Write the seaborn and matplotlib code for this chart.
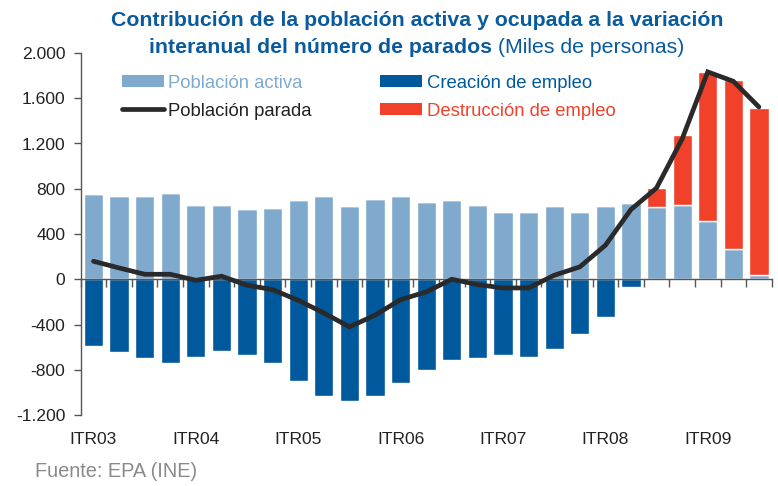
import numpy as np
import pandas as pd
import matplotlib
matplotlib.use("Agg")
import matplotlib.pyplot as plt
from matplotlib.patches import Patch
from matplotlib.lines import Line2D
from matplotlib.ticker import FuncFormatter
import seaborn as sns

# ---- data (miles de personas) ----
years = ["03", "04", "05", "06", "07", "08", "09"]
quarter_names = ["ITR", "IITR", "IIITR", "IVTR"]
quarters = [q + y for y in years for q in quarter_names][:27]

poblacion_activa = [751, 734, 734, 760, 654, 654, 619, 628, 698, 734, 645, 707, 734, 681,
                    698, 654, 592, 592, 645, 592, 645, 672, 636, 654, 513, 265, 35]
creacion_empleo = [-592, -645, -698, -743, -690, -636, -672, -743, -902, -1034, -1079, -1034,
                   -919, -804, -716, -698, -672, -690, -619, -486, -336, -71, 0, 0, 0, 0, 0]
destruccion_empleo = [0, 0, 0, 0, 0, 0, 0, 0, 0, 0, 0, 0, 0, 0, 0, 0, 0, 0, 0, 0, 0, 0,
                      168, 619, 1317, 1494, 1477]
poblacion_parada = [159, 100, 44, 44, -9, 27, -53, -92, -186, -298, -421, -318, -180, -112,
                    0, -47, -77, -77, 35, 109, 300, 616, 807, 1240, 1833, 1750, 1523]

y_ticks = [-1200, -800, -400, 0, 400, 800, 1200, 1600, 2000]

df = pd.DataFrame({
    "trimestre": quarters,
    "activa": poblacion_activa,
    "creacion": creacion_empleo,
    "destruccion": destruccion_empleo,
    "parada": poblacion_parada,
})
df["pos"] = np.arange(len(df))

C_LIGHT = "#7FAACE"
C_DARK = "#00589D"
C_RED = "#F2412B"
C_LINE = "#2A2A2A"
C_TITLE = "#0A5A9E"
C_TEXT = "#222222"

sns.set_style("white")
plt.rcParams["font.family"] = ["Liberation Sans", "DejaVu Sans"]

fig = plt.figure(figsize=(7.78, 4.86), dpi=100)
ax = fig.add_axes([80.7 / 778, 1 - 415 / 486, 691 / 778, (415 - 53) / 486])

W = 0.75
sns.barplot(data=df, x="trimestre", y="activa", color=C_LIGHT, saturation=1,
            width=W, errorbar=None, ax=ax, zorder=2)
sns.barplot(data=df, x="trimestre", y="destruccion", color=C_RED, saturation=1,
            width=W, errorbar=None, ax=ax, bottom=df["activa"], zorder=2)
sns.barplot(data=df, x="trimestre", y="creacion", color=C_DARK, saturation=1,
            width=W, errorbar=None, ax=ax, zorder=2)
sns.lineplot(data=df, x="pos", y="parada", color=C_LINE, lw=3.4, ax=ax, zorder=6,
             solid_joinstyle="miter")

ax.set_xlim(-0.5, len(df) - 0.5)
ax.set_ylim(-1200, 2000)
ax.set_xlabel("")
ax.set_ylabel("")

# spines
for s in ["top", "right"]:
    ax.spines[s].set_visible(False)
ax.spines["left"].set_color("#555555")
ax.spines["left"].set_linewidth(1.0)
ax.spines["bottom"].set_position(("data", 0))
ax.spines["bottom"].set_color("#555555")
ax.spines["bottom"].set_linewidth(1.0)
ax.spines["bottom"].set_zorder(5)

# y axis
ax.set_yticks(y_ticks)
ax.yaxis.set_major_formatter(FuncFormatter(lambda v, p: f"{int(v):,}".replace(",", ".")))
ax.tick_params(axis="y", direction="out", length=5, width=1, color="#555555",
               labelsize=12.6, labelcolor=C_TEXT, pad=6, left=True)

# x axis: boundary ticks on zero line, labels at bottom
ax.set_xticks(np.arange(len(df) + 1) - 0.5)
ax.set_xticklabels([""] * (len(df) + 1))
ax.tick_params(axis="x", direction="out", length=6, width=1, color="#555555", bottom=True)
xt = ax.get_xaxis_transform()
for i, q in enumerate(quarters):
    if q.startswith("ITR"):
        ax.text(i, -0.069, q, transform=xt, ha="center", va="center",
                fontsize=12.6, color=C_TEXT)

ax.grid(False)

# legend
handles = [
    Patch(facecolor=C_LIGHT, edgecolor="none"),
    Line2D([0], [0], color=C_LINE, lw=3.4),
    Patch(facecolor=C_DARK, edgecolor="none"),
    Patch(facecolor=C_RED, edgecolor="none"),
]
labels = ["Población activa", "Población parada", "Creación de empleo", "Destrucción de empleo"]
leg = fig.legend(handles, labels, ncol=2, loc="upper left",
                 bbox_to_anchor=(105 / 778, 1 - 58 / 486), frameon=False,
                 fontsize=13.3, handlelength=2.27, handleheight=0.65, handletextpad=0.25,
                 columnspacing=3.7, labelspacing=0.6,
                 labelcolor=[C_LIGHT, C_TEXT, C_DARK, C_RED])

# title
title_fams = ["Liberation Sans Narrow", "Liberation Sans", "DejaVu Sans"]
TS = 15.3
fig.text(417 / 778, 1 - 21 / 486,
         "Contribución de la población activa y ocupada a la variación",
         ha="center", va="center", fontsize=TS, fontweight="bold", color=C_TITLE,
         family=title_fams)
fig.canvas.draw()
r = fig.canvas.get_renderer()
t1 = fig.text(0, 1 - 47 / 486, "interanual del número de parados", ha="left", va="center",
              fontsize=TS, fontweight="bold", color=C_TITLE, family=title_fams)
t2 = fig.text(0, 1 - 47 / 486, " (Miles de personas)", ha="left", va="center",
              fontsize=TS, color=C_TITLE, family=title_fams)
w1 = t1.get_window_extent(r).width
w2 = t2.get_window_extent(r).width
x0 = 417 - (w1 + w2) / 2
t1.set_x(x0 / 778)
t2.set_x((x0 + w1) / 778)

fig.text(35 / 778, 1 - 471 / 486, "Fuente: EPA (INE)", ha="left", va="center",
         fontsize=14.4, color="#8A8A8A")

fig.savefig("out.png", dpi=100, facecolor="white")
